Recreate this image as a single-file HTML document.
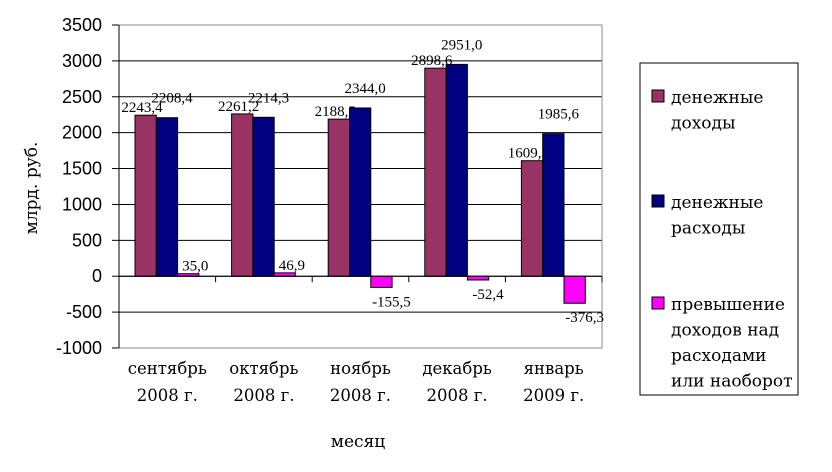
<!DOCTYPE html>
<html><head><meta charset="utf-8"><style>
body{margin:0;background:#fff;}
svg text{font-family:"Liberation Serif",serif;fill:#000;}
</style></head><body>
<svg id="c" width="832" height="467" xmlns="http://www.w3.org/2000/svg"></svg>
<script>
const categories=[["сентябрь","2008 г."],["октябрь","2008 г."],["ноябрь","2008 г."],["декабрь","2008 г."],["январь","2009 г."]];
const income=[2243.4,2261.2,2188.5,2898.6,1609.3];
const expense=[2208.4,2214.3,2344.0,2951.0,1985.6];
const diff=[35.0,46.9,-155.5,-52.4,-376.3];
const yTicks=[3500,3000,2500,2000,1500,1000,500,0,-500,-1000];
const seriesNames=[["денежные","доходы"],["денежные","расходы"],["превышение","доходов над","расходами","или наоборот"]];
const colors=["#993366","#000080","#FF00FF"];
const series=[income,expense,diff];
const X0=119,X1=602,Y0=25,Y1=348,vmax=3500,vmin=-1000;
const y=v=>Y0+(vmax-v)*(Y1-Y0)/(vmax-vmin);
const gw=(X1-X0)/categories.length;
const svg=document.getElementById('c');const NS="http://www.w3.org/2000/svg";
const DJ='font-family:"DejaVu Serif",serif';
function mk(t,a,p){const e=document.createElementNS(NS,t);for(const k in a)e.setAttribute(k,a[k]);(p||svg).appendChild(e);return e;}
function fmt(v){return v.toFixed(1).replace('.',',');}
yTicks.forEach(t=>{
 if(t!==vmin){const l=mk('line',{x1:X0,x2:X1,y1:y(t),y2:y(t),stroke:'#000','stroke-width':1});}
 mk('line',{x1:X0-7,x2:X0,y1:y(t),y2:y(t),stroke:'#000'});
 const tx=mk('text',{x:X0-17,y:y(t)+6,'text-anchor':'end','font-size':18,style:'font-family:"Liberation Sans",sans-serif'});tx.textContent=t;
 
});
const fr=mk('rect',{x:X0,y:Y0,width:X1-X0,height:Y1-Y0,fill:'none',stroke:'#888'});

mk('line',{x1:X0,x2:X0,y1:Y0,y2:Y1,stroke:'#000'});
categories.forEach((c,i)=>{
 const gx=X0+i*gw;
 mk('line',{x1:gx+gw,x2:gx+gw,y1:y(0),y2:y(0)+6,stroke:'#000'});
 series.forEach((s,j)=>{
  const v=s[i],bw=21.3,bx=gx+16+j*bw,top=Math.min(y(v),y(0)),h=Math.abs(y(v)-y(0));
  const r=mk('rect',{x:bx,y:top,width:bw,height:Math.max(h,1),fill:colors[j],stroke:'#000','stroke-width':1});
  
  let lx,ly;
  if(j===0){lx=bx+7;ly=y(v)-3;}
  else if(j===1){lx=bx+bw/2+5;ly=y(v)-15;}
  else if(v>=0){lx=bx+bw/2+7;ly=y(v)-3;}
  else {lx=bx+bw/2+10;ly=y(v)+19;}
  const t=mk('text',{x:lx,y:ly,'text-anchor':'middle','font-size':15});t.textContent=fmt(v);
  
 });
 c.forEach((ln,k)=>{const t=mk('text',{x:gx+gw/2,y:374+k*27,'text-anchor':'middle','font-size':16.5,style:DJ});t.textContent=ln;
  });
});
mk('line',{x1:X0,x2:X1,y1:y(0),y2:y(0),stroke:'#000'});
const xt=mk('text',{x:358,y:447,'text-anchor':'middle','font-size':17,style:DJ});xt.textContent='месяц';

const yt=mk('text',{x:0,y:0,'text-anchor':'middle','font-size':17,style:DJ,transform:'translate(37,188) rotate(-90)'});yt.textContent='млрд. руб.';

const lg=mk('g',{});
mk('rect',{x:640,y:63,width:158,height:332,fill:'#fff',stroke:'#000'},lg);
const ly0=[97,202,304];
seriesNames.forEach((n,j)=>{
 const e=mk('g',{},lg);
 mk('rect',{x:652,y:ly0[j]-7,width:12,height:12,fill:colors[j],stroke:'#000'},e);
 n.forEach((ln,k)=>{const t=mk('text',{x:671,y:ly0[j]+6+k*25.5,'font-size':17,style:DJ},e);t.textContent=ln;});
});
</script>
</body></html>
